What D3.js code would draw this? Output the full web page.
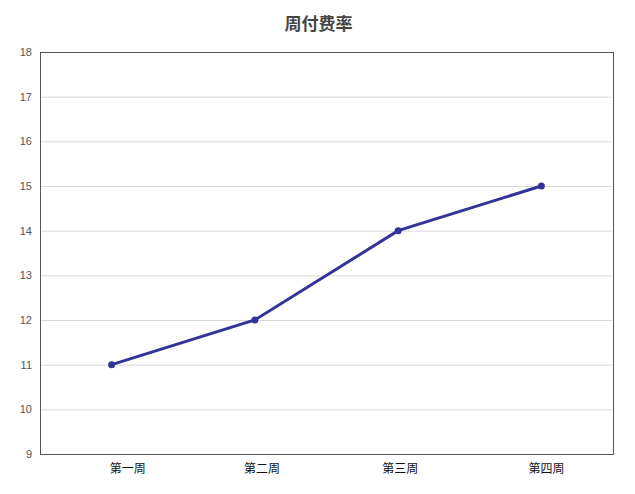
<!DOCTYPE html>
<html>
<head>
<meta charset="utf-8">
<script src="https://cdn.jsdelivr.net/npm/d3@7"></script>
<style>
	body { margin: 0; background: #fff; }
	text { font-family: "Noto Sans CJK SC", "DejaVu Sans", sans-serif; }
</style>
</head>
<body>
<svg id="chart" width="635" height="494"></svg>
<script>
var chartTitle = "周付费率";
var categories = ["第一周", "第二周", "第三周", "第四周"];
var rates = [11, 12, 14, 15];
var yTicks = [9, 10, 11, 12, 13, 14, 15, 16, 17, 18];

var margin = { top: 52, right: 22, bottom: 40, left: 40 };
// small nudges of the category labels, as in the original
var labelNudge = [16, 7, 2, 5];

var svg = d3.select("#chart");
var width = +svg.attr("width") - margin.left - margin.right;
var height = +svg.attr("height") - margin.top - margin.bottom;

var x = d3.scaleBand().domain(categories).range([0, width]);
var y = d3.scaleLinear().domain([9, 18]).range([height, 0]);

svg.append("text")
	.attr("x", +svg.attr("width") / 2 + 1)
	.attr("y", 30)
	.attr("text-anchor", "middle")
	.style("font-size", "17px")
	.style("font-weight", "bold")
	.style("fill", "#444")
	.text(chartTitle);

var g = svg.append("g").attr("transform", "translate(" + margin.left + "," + margin.top + ")");

// grid lines
g.append("g")
	.selectAll("line")
	.data(yTicks.slice(1, -1))
	.enter().append("line")
	.attr("x1", 1).attr("x2", width - 1)
	.attr("y1", function (d) { return y(d) + 0.5; })
	.attr("y2", function (d) { return y(d) + 0.5; })
	.attr("stroke", "#d9d9d9").attr("stroke-width", 1);

// frame
g.append("rect")
	.attr("x", 0.5).attr("y", 0.5)
	.attr("width", width).attr("height", height)
	.attr("fill", "none").attr("stroke", "#555").attr("stroke-width", 1);

var yAxis = g.append("g")
	.call(d3.axisLeft(y).tickValues(yTicks).tickSize(0).tickPadding(8));
yAxis.select(".domain").remove();
yAxis.selectAll("text").attr("fill", "#555").style("fill", "#555").style("font-size", "11px")
	.style("font-family", "Arial, 'Liberation Sans', sans-serif");

var xAxis = g.append("g")
	.attr("transform", "translate(0," + height + ")")
	.call(d3.axisBottom(x).tickSize(0).tickPadding(10));
xAxis.select(".domain").remove();
xAxis.selectAll("text")
	.attr("dx", function (d, i) { return labelNudge[i]; })
	.style("font-size", "12px").style("fill", "#111");

var line = d3.line()
	.x(function (d, i) { return x(categories[i]) + x.bandwidth() / 2; })
	.y(function (d) { return y(d); });

g.append("path")
	.datum(rates)
	.attr("d", line)
	.attr("fill", "none")
	.attr("stroke", "#333399")
	.attr("stroke-width", 3);

g.selectAll(".dot")
	.data(rates)
	.enter().append("circle")
	.attr("class", "dot")
	.attr("cx", function (d, i) { return x(categories[i]) + x.bandwidth() / 2; })
	.attr("cy", function (d) { return y(d); })
	.attr("r", 3.5)
	.attr("fill", "#333399");
</script>
</body>
</html>
